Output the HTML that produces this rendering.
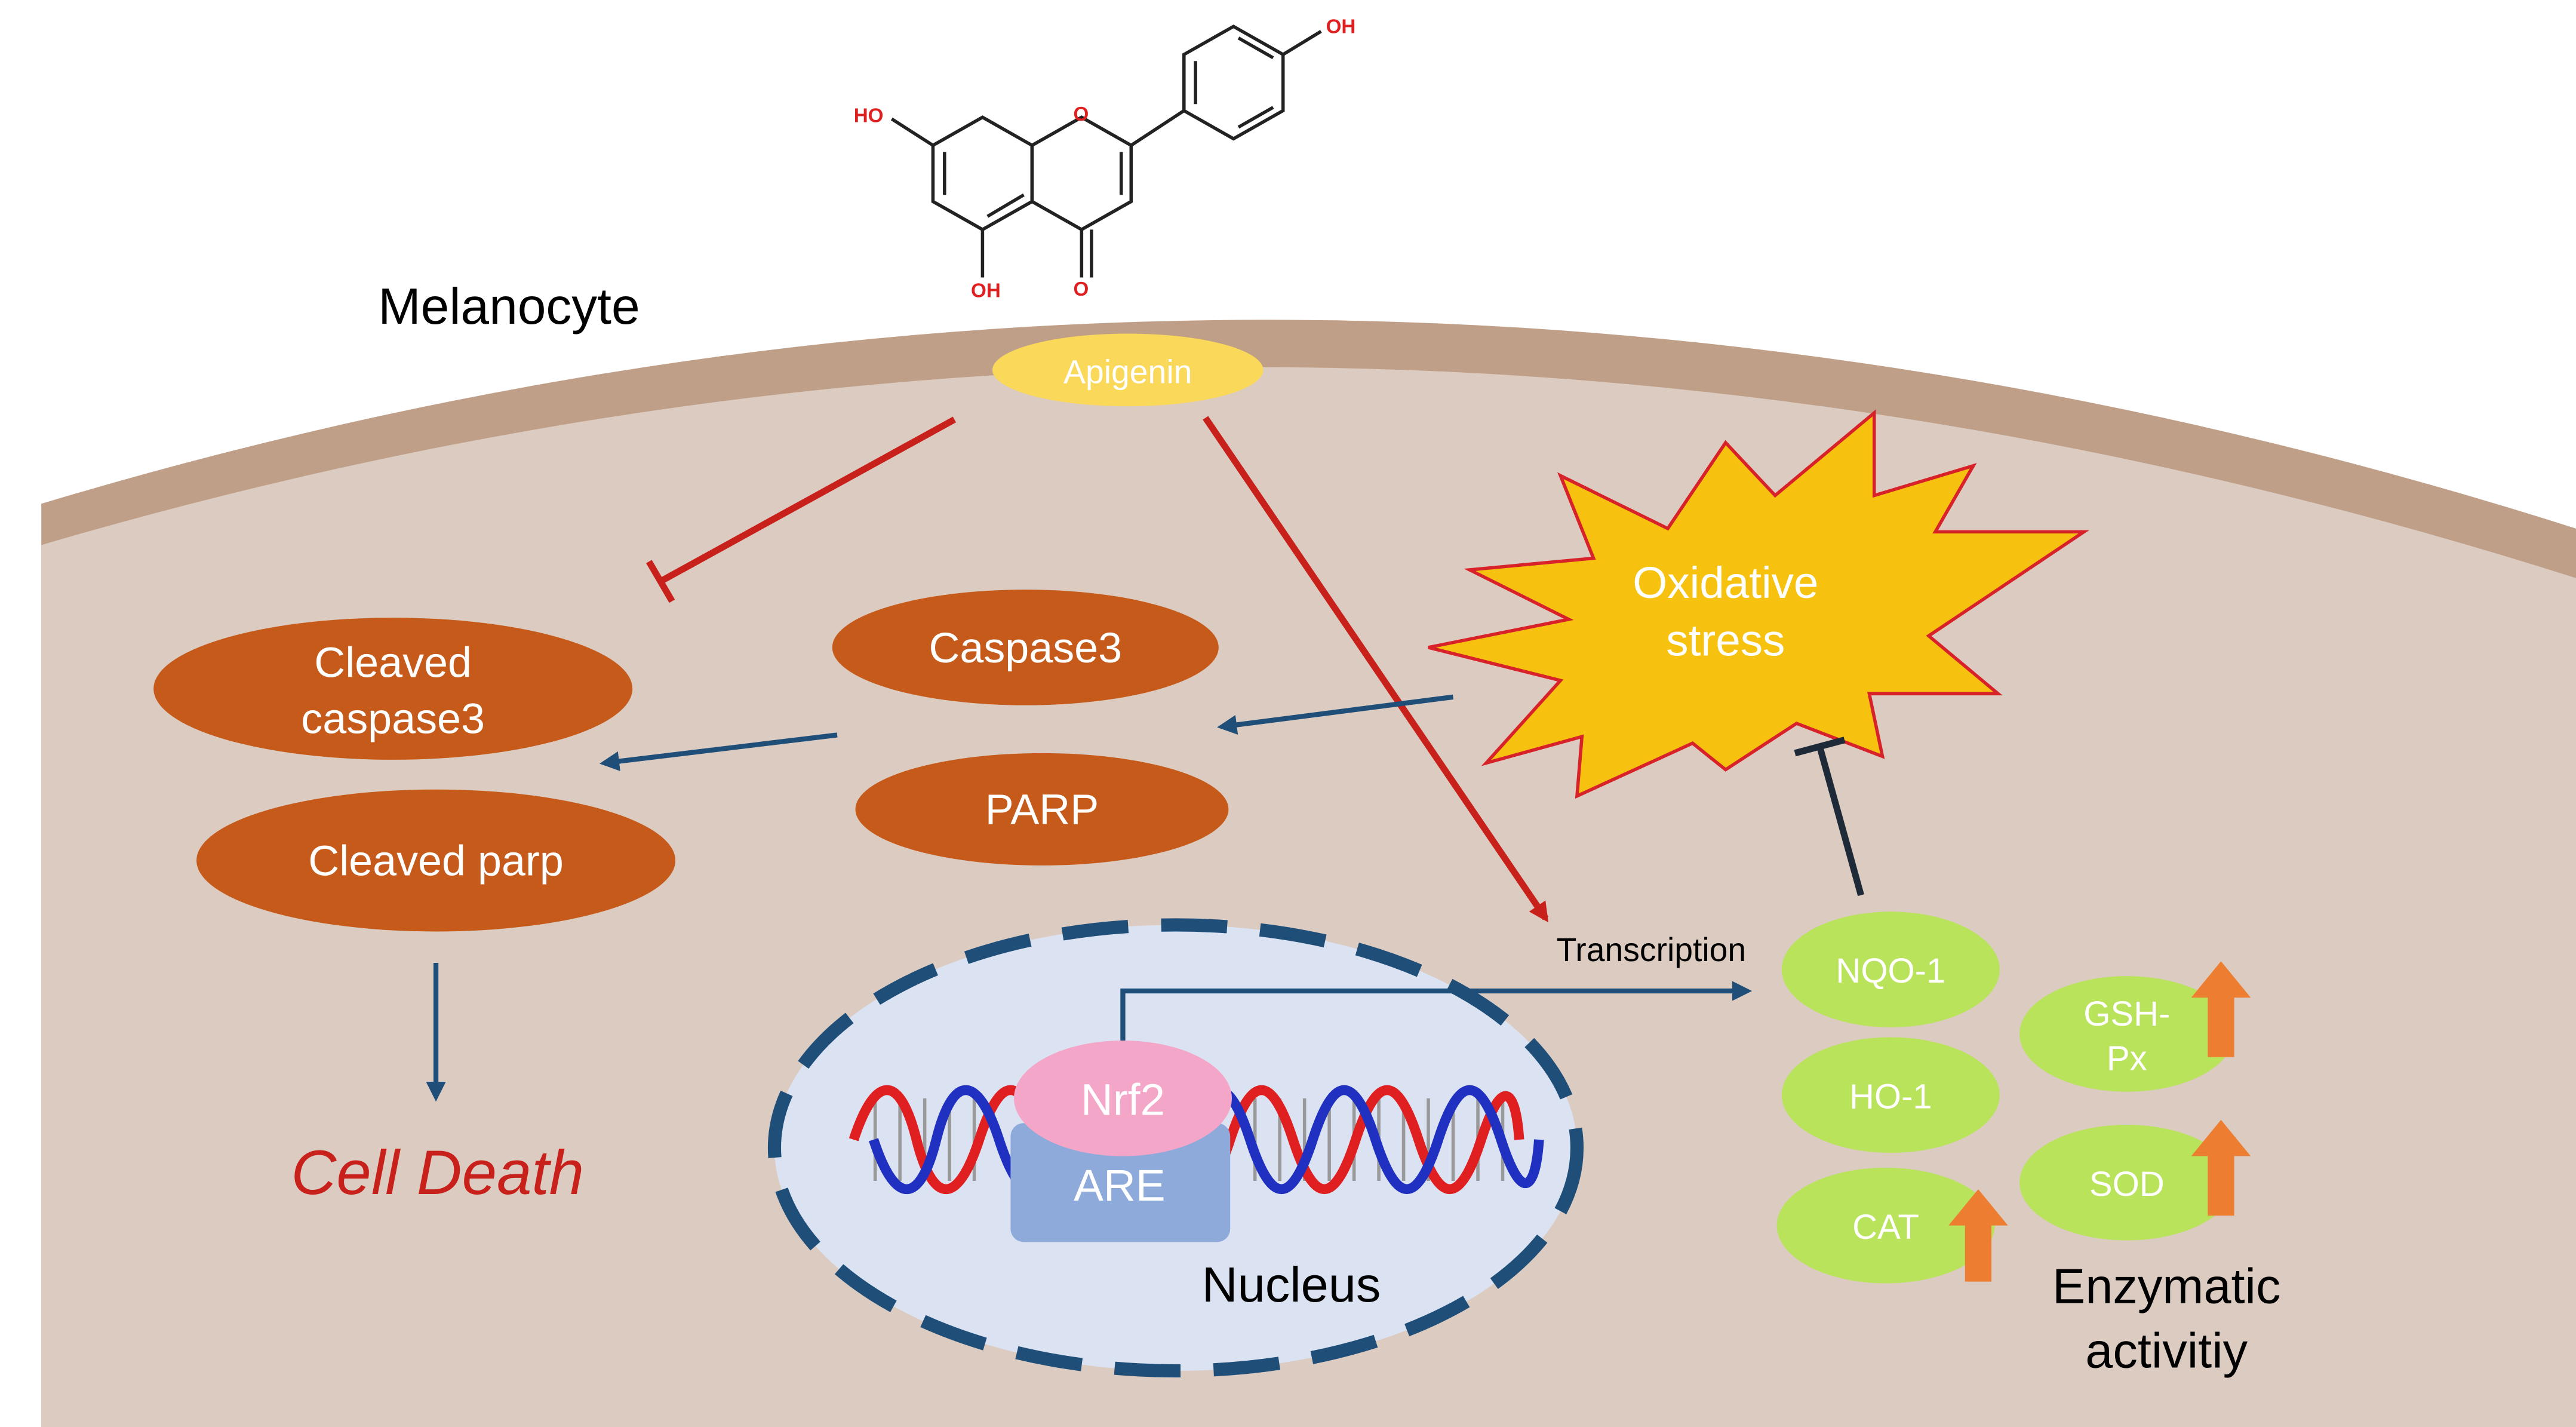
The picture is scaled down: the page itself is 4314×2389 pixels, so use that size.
<!DOCTYPE html>
<html><head><meta charset="utf-8"><style>html,body{margin:0;padding:0;background:#fff}svg{display:block}text{font-family:"Liberation Sans",sans-serif}</style></head>
<body>
<svg width="4314" height="2389" viewBox="0 0 1560 864" preserveAspectRatio="none" xmlns="http://www.w3.org/2000/svg">
<defs>
<marker id="ar" markerWidth="12" markerHeight="12" refX="9" refY="6" orient="auto" markerUnits="userSpaceOnUse"><path d="M0,0 L12,6 L0,12 z" fill="#c8201a"/></marker>
<marker id="ab2" markerWidth="12" markerHeight="12" refX="9" refY="6" orient="auto" markerUnits="userSpaceOnUse"><path d="M0,0 L12,6 L0,12 z" fill="#1f4e79"/></marker>
</defs>
<rect width="1560" height="864" fill="#fff"/>
<path d="M25,305 Q790,75 1560,320 L1560,864 L25,864 Z" fill="#bf9f88"/>
<path d="M25,330 Q790,105 1560,350 L1560,864 L25,864 Z" fill="#dccbc0"/>
<g stroke="#222" stroke-width="2" fill="none">
<polygon points="565,88 595,71 625,88 625,122 595,139 565,122"/>
<polygon points="625,88 655,71 685,88 685,122 655,139 625,122"/>
<polygon points="717,33 747,16 777,33 777,67 747,84 717,67"/>
<line x1="685" y1="88" x2="717" y2="67"/>
<line x1="565" y1="88" x2="540" y2="72"/>
<line x1="595" y1="139" x2="595" y2="168"/>
<line x1="655" y1="139" x2="655" y2="168"/><line x1="661" y1="139" x2="661" y2="168"/>
<line x1="777" y1="33" x2="800" y2="19"/>
<line x1="572" y1="92" x2="572" y2="118"/><line x1="598" y1="131" x2="620" y2="118"/>
<line x1="679" y1="92" x2="679" y2="118"/>
<line x1="724" y1="37" x2="724" y2="63"/><line x1="750" y1="23" x2="771" y2="35"/><line x1="750" y1="77" x2="771" y2="65"/>
</g>
<g fill="#e02020" font-size="12" font-weight="bold">
<text x="517" y="74">HO</text><text x="588" y="180">OH</text><text x="650" y="179">O</text><text x="650" y="73">O</text><text x="803" y="20">OH</text>
</g>
<text x="229" y="196" font-size="31" fill="#000">Melanocyte</text>
<ellipse cx="683" cy="224" rx="82" ry="22" fill="#f9d85a"/>
<text x="683" y="232" font-size="20" fill="#fff" text-anchor="middle">Apigenin</text>
<line x1="578" y1="254" x2="400" y2="352" stroke="#c8201a" stroke-width="4"/>
<line x1="393" y1="340" x2="407" y2="364" stroke="#c8201a" stroke-width="4"/>
<line x1="730" y1="253" x2="936" y2="556" stroke="#c8201a" stroke-width="4" marker-end="url(#ar)"/>
<polygon points="1135,250 1075,300 1045,268 1010,320 945,288 965,338 890,345 950,375 865,392 945,412 900,462 958,446 955,482 1025,450 1045,466 1088,438 1140,458 1132,420 1210,420 1168,385 1262,322 1172,322 1195,282 1135,300" fill="#f6c20f" stroke="#d8222a" stroke-width="2"/>
<text x="1045" y="362" font-size="27" fill="#fff" text-anchor="middle">Oxidative</text>
<text x="1045" y="397" font-size="27" fill="#fff" text-anchor="middle">stress</text>
<line x1="1127" y1="542" x2="1102" y2="452" stroke="#1e2a38" stroke-width="4"/>
<line x1="1087" y1="456" x2="1117" y2="448" stroke="#1e2a38" stroke-width="4"/>
<g fill="#c55a1a"><ellipse cx="238" cy="417" rx="145" ry="43"/><ellipse cx="621" cy="392" rx="117" ry="35"/><ellipse cx="631" cy="490" rx="113" ry="34"/><ellipse cx="264" cy="521" rx="145" ry="43"/></g>
<g fill="#fff" font-size="26" text-anchor="middle">
<text x="238" y="410">Cleaved</text><text x="238" y="444">caspase3</text>
<text x="621" y="401">Caspase3</text><text x="631" y="499">PARP</text><text x="264" y="530">Cleaved parp</text></g>
<g stroke="#1f4e79" stroke-width="3">
<line x1="880" y1="422" x2="740" y2="440" marker-end="url(#ab2)"/>
<line x1="507" y1="445" x2="366" y2="462" marker-end="url(#ab2)"/>
<line x1="264" y1="583" x2="264" y2="664" marker-end="url(#ab2)"/></g>
<text x="265" y="723" font-size="38" font-style="italic" fill="#c8201a" text-anchor="middle">Cell Death</text>
<ellipse cx="712" cy="695" rx="243" ry="135" fill="#dbe3f3" stroke="#1f4e79" stroke-width="8" stroke-dasharray="40,20"/>
<g stroke="#999" stroke-width="2">
<line x1="530" y1="665" x2="530" y2="715"/><line x1="545" y1="665" x2="545" y2="715"/><line x1="560" y1="665" x2="560" y2="715"/><line x1="575" y1="665" x2="575" y2="715"/><line x1="590" y1="665" x2="590" y2="715"/><line x1="760" y1="665" x2="760" y2="715"/><line x1="775" y1="665" x2="775" y2="715"/><line x1="790" y1="665" x2="790" y2="715"/><line x1="805" y1="665" x2="805" y2="715"/><line x1="820" y1="665" x2="820" y2="715"/><line x1="835" y1="665" x2="835" y2="715"/><line x1="850" y1="665" x2="850" y2="715"/><line x1="865" y1="665" x2="865" y2="715"/><line x1="880" y1="665" x2="880" y2="715"/><line x1="895" y1="665" x2="895" y2="715"/><line x1="910" y1="665" x2="910" y2="715"/></g>
<path d="M517,690 C530,650 545,650 555,690 S580,730 593,690 S618,650 631,690 S656,730 669,690 S694,650 707,690 S732,730 745,690 S770,650 783,690 S808,730 821,690 S846,650 859,690 S884,730 897,690 S918,660 920,690" fill="none" stroke="#e02020" stroke-width="6"/>
<path d="M517,690 C530,730 545,730 555,690 S580,650 593,690 S618,730 631,690 S656,650 669,690 S694,730 707,690 S732,650 745,690 S770,730 783,690 S808,650 821,690 S846,730 859,690 S884,650 897,690 S918,720 920,690" fill="none" stroke="#2030c0" stroke-width="6" transform="translate(12,0)"/>
<rect x="612" y="680" width="133" height="72" rx="8" fill="#8eaadb"/>
<text x="678" y="727" font-size="27" fill="#fff" text-anchor="middle">ARE</text>
<ellipse cx="680" cy="665" rx="66" ry="35" fill="#f4a6c8"/>
<text x="680" y="675" font-size="27" fill="#fff" text-anchor="middle">Nrf2</text>
<polyline points="680,630 680,600 1058,600" fill="none" stroke="#1f4e79" stroke-width="3" marker-end="url(#ab2)"/>
<text x="1000" y="582" font-size="20" fill="#000" text-anchor="middle">Transcription</text>
<text x="782" y="788" font-size="30" fill="#000" text-anchor="middle">Nucleus</text>
<g fill="#b8e35a"><ellipse cx="1145" cy="587" rx="66" ry="35"/><ellipse cx="1145" cy="663" rx="66" ry="35"/><ellipse cx="1142" cy="742" rx="66" ry="35"/><ellipse cx="1288" cy="626" rx="65" ry="35"/><ellipse cx="1288" cy="716" rx="65" ry="35"/></g>
<g fill="#fff" font-size="21" text-anchor="middle">
<text x="1145" y="595">NQO-1</text><text x="1145" y="671">HO-1</text><text x="1142" y="750">CAT</text><text x="1288" y="621">GSH-</text><text x="1288" y="648">Px</text><text x="1288" y="724">SOD</text></g>
<g fill="#ed7d31">
<polygon points="1198,720 1216,742 1206,742 1206,776 1190,776 1190,742 1180,742"/>
<polygon points="1345,582 1363,604 1353,604 1353,640 1337,640 1337,604 1327,604"/>
<polygon points="1345,678 1363,700 1353,700 1353,736 1337,736 1337,700 1327,700"/></g>
<text x="1312" y="789" font-size="30" fill="#000" text-anchor="middle">Enzymatic</text>
<text x="1312" y="828" font-size="30" fill="#000" text-anchor="middle">activitiy</text>
</svg>
</body></html>
